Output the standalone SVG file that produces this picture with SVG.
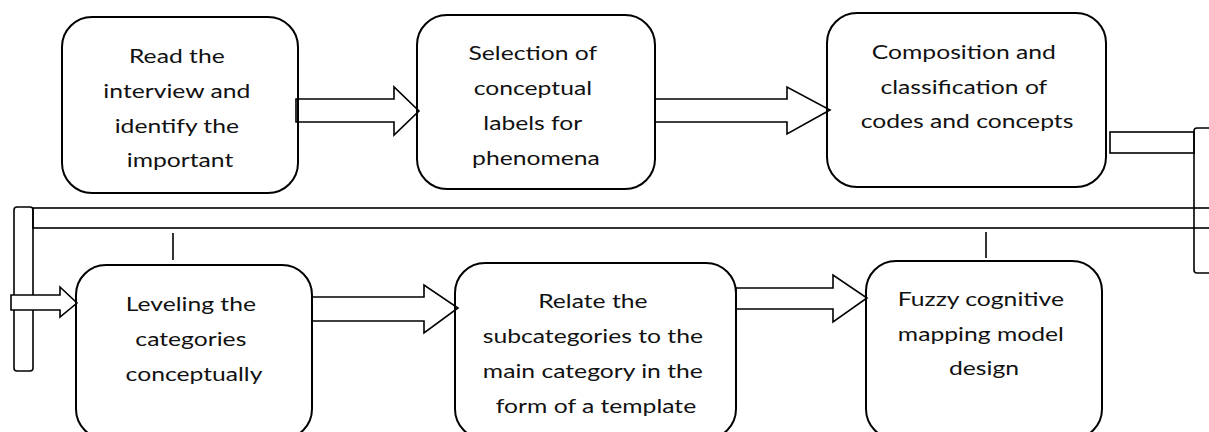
<svg xmlns="http://www.w3.org/2000/svg" width="1209" height="432" viewBox="0 0 1209 432">
  <style>
    .box { fill: none; stroke: #000; stroke-width: 2; }
    .arrow { fill: #fff; stroke: #000; stroke-width: 1.6; stroke-linejoin: miter; }
    .bar { fill: none; stroke: #000; stroke-width: 1.6; }
    .tick { stroke: #000; stroke-width: 1.6; }
    .lbl { font-family: Lato, "Open Sans", "Liberation Sans", sans-serif; font-size: 19px; fill: #111; text-anchor: middle; }
  </style>
  <rect width="1209" height="432" fill="#fff"/>

  <g id="connectors">
    <!-- long return bar and its end brackets -->
    <rect class="bar" x="33" y="208" width="1200" height="20"/>
    <rect class="bar" x="14" y="207" width="19" height="164" rx="3"/>
    <rect class="bar" x="1194" y="128" width="40" height="145" rx="3"/>
    <rect class="bar" x="1110" y="132" width="84" height="21"/>
    <line class="tick" x1="173" y1="233" x2="173" y2="260"/>
    <line class="tick" x1="986" y1="232" x2="986" y2="258"/>
    <!-- block arrows -->
    <polygon class="arrow" points="296,99 394,99 394,87 419,111 394,135 394,122 296,122"/>
    <polygon class="arrow" points="655,99 787,99 787,87 830,110 787,134 787,122 655,122"/>
    <polygon class="arrow" points="11,295 60,295 60,287 77,303 60,317 60,310 11,310"/>
    <polygon class="arrow" points="312,297 424,297 424,285 458,308 424,333 424,321 312,321"/>
    <polygon class="arrow" points="736,288 833,288 833,275 867,298 833,322 833,309 736,309"/>
  </g>

  <g id="node-read">
    <rect class="box" x="62" y="17" width="236" height="176" rx="30"/>
    <text class="lbl" transform="translate(180 0) scale(1.3 1)">
      <tspan x="0" y="63">Read the</tspan>
      <tspan x="0" y="98">interview and</tspan>
      <tspan x="0" y="133">identify the</tspan>
      <tspan x="0" y="167">important</tspan>
    </text>
  </g>

  <g id="node-select">
    <rect class="box" x="417" y="15" width="238" height="174" rx="30"/>
    <text class="lbl" transform="translate(536 0) scale(1.3 1)">
      <tspan x="0" y="60">Selection of</tspan>
      <tspan x="0" y="95">conceptual</tspan>
      <tspan x="0" y="130">labels for</tspan>
      <tspan x="0" y="165">phenomena</tspan>
    </text>
  </g>

  <g id="node-compose">
    <rect class="box" x="827" y="13" width="279" height="174" rx="30"/>
    <text class="lbl" transform="translate(967 0) scale(1.3 1)">
      <tspan x="0" y="59">Composition and</tspan>
      <tspan x="0" y="94">classification of</tspan>
      <tspan x="0" y="128">codes and concepts</tspan>
    </text>
  </g>

  <g id="node-level">
    <rect class="box" x="76" y="265" width="236" height="174" rx="30"/>
    <text class="lbl" transform="translate(194 0) scale(1.3 1)">
      <tspan x="0" y="311">Leveling the</tspan>
      <tspan x="0" y="346">categories</tspan>
      <tspan x="0" y="381">conceptually</tspan>
    </text>
  </g>

  <g id="node-relate">
    <rect class="box" x="455" y="263" width="281" height="176" rx="30"/>
    <text class="lbl" transform="translate(596 0) scale(1.3 1)">
      <tspan x="0" y="308">Relate the</tspan>
      <tspan x="0" y="343">subcategories to the</tspan>
      <tspan x="0" y="378">main category in the</tspan>
      <tspan x="0" y="413">form of a template</tspan>
    </text>
  </g>

  <g id="node-fuzzy">
    <rect class="box" x="866" y="261" width="236" height="178" rx="30"/>
    <text class="lbl" transform="translate(984 0) scale(1.3 1)">
      <tspan x="0" y="306">Fuzzy cognitive</tspan>
      <tspan x="0" y="341">mapping model</tspan>
      <tspan x="0" y="375">design</tspan>
    </text>
  </g>
</svg>
